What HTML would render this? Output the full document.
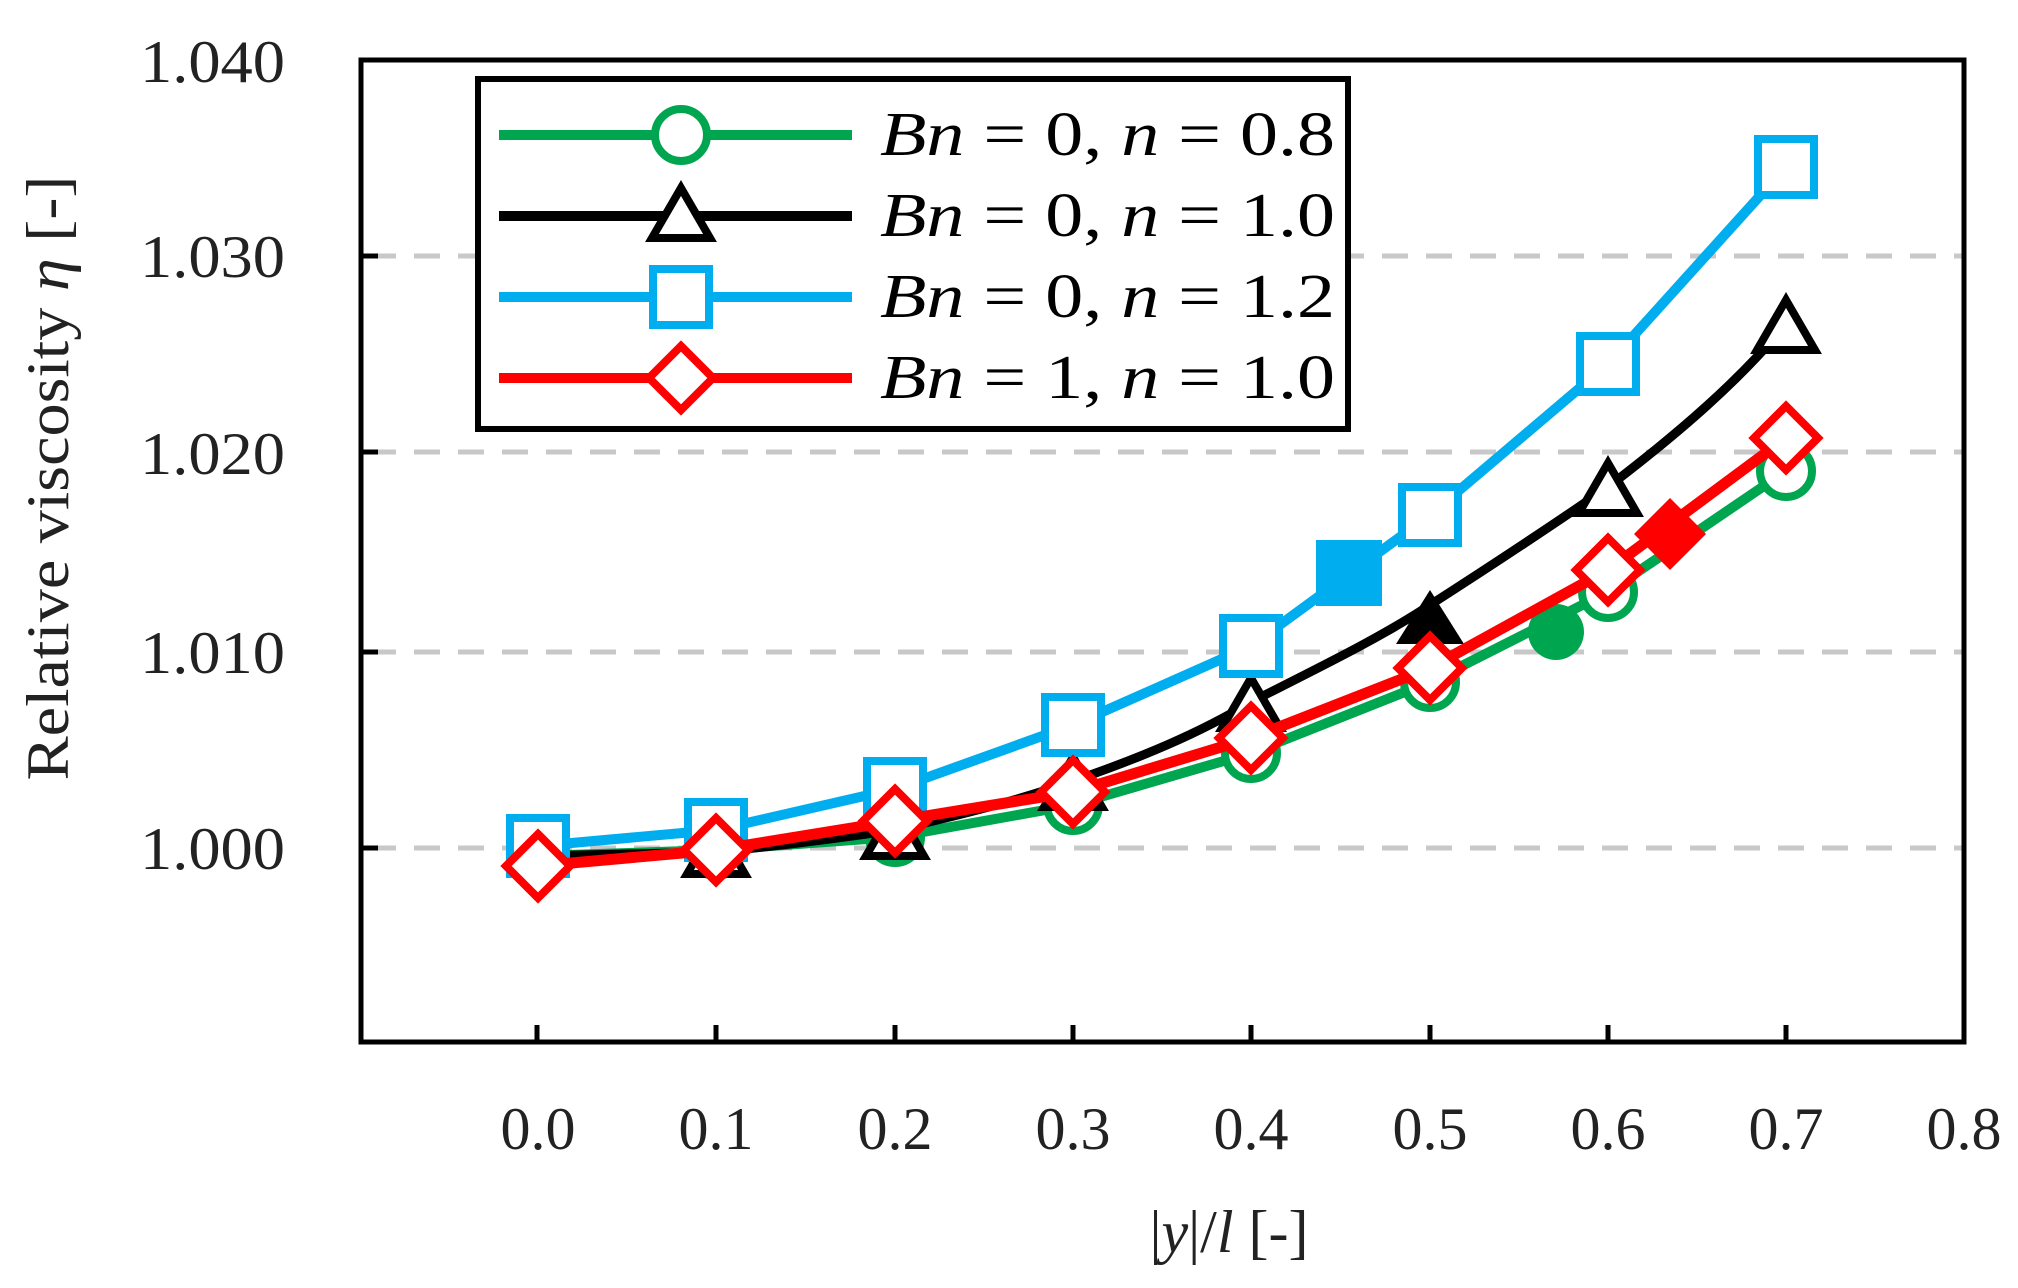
<!DOCTYPE html>
<html><head><meta charset="utf-8"><style>html,body{margin:0;padding:0;background:#fff}svg{display:block}</style></head>
<body>
<svg width="2018" height="1288" viewBox="0 0 2018 1288" xmlns="http://www.w3.org/2000/svg">
<rect width="2018" height="1288" fill="#fff"/>
<g stroke="#c8c8c8" stroke-width="5" stroke-dasharray="26,18">
<line x1="370" y1="848" x2="1962" y2="848"/>
<line x1="370" y1="652" x2="1962" y2="652"/>
<line x1="370" y1="452" x2="1962" y2="452"/>
<line x1="370" y1="256" x2="1962" y2="256"/>
</g>
<g stroke="#000" stroke-width="5">
<line x1="537" y1="1043" x2="537" y2="1025"/>
<line x1="716" y1="1043" x2="716" y2="1025"/>
<line x1="895" y1="1043" x2="895" y2="1025"/>
<line x1="1073" y1="1043" x2="1073" y2="1025"/>
<line x1="1251" y1="1043" x2="1251" y2="1025"/>
<line x1="1430" y1="1043" x2="1430" y2="1025"/>
<line x1="1608" y1="1043" x2="1608" y2="1025"/>
<line x1="1786" y1="1043" x2="1786" y2="1025"/>
<line x1="360" y1="848" x2="378" y2="848"/>
<line x1="360" y1="652" x2="378" y2="652"/>
<line x1="360" y1="452" x2="378" y2="452"/>
<line x1="360" y1="256" x2="378" y2="256"/>
</g>
<!-- green -->
<polyline fill="none" stroke="#00a550" stroke-width="10" points="538,856 716,850 895,837 1073,805 1251,753 1430,682 1608,592 1786,471"/>
<g fill="#fff" stroke="#00a550" stroke-width="8">
<circle cx="538" cy="856" r="26"/><circle cx="716" cy="850" r="26"/><circle cx="895" cy="837" r="26"/><circle cx="1073" cy="805" r="26"/><circle cx="1251" cy="753" r="26"/><circle cx="1430" cy="682" r="26"/><circle cx="1608" cy="592" r="26"/><circle cx="1786" cy="471" r="26"/>
</g>
<circle cx="1556" cy="632" r="28" fill="#00a550"/>
<!-- black -->
<path fill="none" stroke="#000" stroke-width="9" d="M538,856 L716,852 C780,846 840,838 895,830 C960,815 1020,800 1073,781 C1140,758 1200,733 1251,702 C1320,667 1380,638 1430,605 C1500,560 1560,520 1608,487 C1680,432 1740,380 1786,324"/>
<g fill="#fff" stroke="#000" stroke-width="8" stroke-linejoin="miter">
<polygon points="716,824 745,874 687,874"/><polygon points="895,806 924,856 866,856"/><polygon points="1073,757 1102,807 1044,807"/><polygon points="1251,678 1280,728 1222,728"/><polygon points="1608,463 1637,513 1579,513"/><polygon points="1786,300 1815,350 1757,350"/>
</g>
<polygon points="1430,590 1464,644 1396,644" fill="#000"/>
<!-- blue -->
<polyline fill="none" stroke="#00aeef" stroke-width="10" points="538,846 716,830 895,789 1073,725 1251,646 1430,515 1608,364 1786,167"/>
<g fill="#fff" stroke="#00aeef" stroke-width="8">
<rect x="510" y="818" width="56" height="56"/><rect x="688" y="802" width="56" height="56"/><rect x="867" y="761" width="56" height="56"/><rect x="1045" y="697" width="56" height="56"/><rect x="1223" y="618" width="56" height="56"/><rect x="1402" y="487" width="56" height="56"/><rect x="1580" y="336" width="56" height="56"/><rect x="1758" y="139" width="56" height="56"/>
</g>
<rect x="1316" y="540" width="66" height="66" fill="#00aeef"/>
<!-- red -->
<polyline fill="none" stroke="#ff0000" stroke-width="11" points="538,866 716,850 895,821 1073,792 1251,738 1430,668 1608,570 1786,438"/>
<g fill="#fff" stroke="#ff0000" stroke-width="8">
<polygon points="538,834 570,866 538,898 506,866"/><polygon points="716,818 748,850 716,882 684,850"/><polygon points="895,789 927,821 895,853 863,821"/><polygon points="1073,760 1105,792 1073,824 1041,792"/><polygon points="1251,706 1283,738 1251,770 1219,738"/><polygon points="1430,636 1462,668 1430,700 1398,668"/><polygon points="1608,538 1640,570 1608,602 1576,570"/><polygon points="1786,406 1818,438 1786,470 1754,438"/>
</g>
<polygon points="1670,498 1706,534 1670,570 1634,534" fill="#ff0000"/>
<!-- frame -->
<rect x="361" y="60" width="1603" height="982" fill="none" stroke="#000" stroke-width="5"/>
<!-- legend -->
<rect x="478" y="79" width="870" height="350" fill="#fff" stroke="#000" stroke-width="6"/>
<line x1="499" y1="135" x2="852" y2="135" stroke="#00a550" stroke-width="10"/>
<circle cx="681" cy="135" r="26" fill="#fff" stroke="#00a550" stroke-width="8"/>
<line x1="499" y1="216" x2="852" y2="216" stroke="#000" stroke-width="10"/>
<polygon points="681,188 710,238 652,238" fill="#fff" stroke="#000" stroke-width="8"/>
<line x1="499" y1="297" x2="852" y2="297" stroke="#00aeef" stroke-width="10"/>
<rect x="653" y="269" width="56" height="56" fill="#fff" stroke="#00aeef" stroke-width="8"/>
<line x1="499" y1="378" x2="852" y2="378" stroke="#ff0000" stroke-width="10"/>
<polygon points="681,346 713,378 681,410 649,378" fill="#fff" stroke="#ff0000" stroke-width="8"/>
<g font-family="Liberation Serif, serif" font-size="62" fill="#000">
<text x="880" y="155" textLength="455" lengthAdjust="spacingAndGlyphs"><tspan font-style="italic">Bn</tspan> = 0, <tspan font-style="italic">n</tspan> = 0.8</text>
<text x="880" y="236" textLength="455" lengthAdjust="spacingAndGlyphs"><tspan font-style="italic">Bn</tspan> = 0, <tspan font-style="italic">n</tspan> = 1.0</text>
<text x="880" y="317" textLength="455" lengthAdjust="spacingAndGlyphs"><tspan font-style="italic">Bn</tspan> = 0, <tspan font-style="italic">n</tspan> = 1.2</text>
<text x="880" y="398" textLength="455" lengthAdjust="spacingAndGlyphs"><tspan font-style="italic">Bn</tspan> = 1, <tspan font-style="italic">n</tspan> = 1.0</text>
</g>
<!-- axis labels -->
<g font-family="Liberation Serif, serif" font-size="60" fill="#222">
<text x="285" y="82" text-anchor="end" textLength="145" lengthAdjust="spacingAndGlyphs">1.040</text>
<text x="285" y="277" text-anchor="end" textLength="145" lengthAdjust="spacingAndGlyphs">1.030</text>
<text x="285" y="474" text-anchor="end" textLength="145" lengthAdjust="spacingAndGlyphs">1.020</text>
<text x="285" y="673" text-anchor="end" textLength="145" lengthAdjust="spacingAndGlyphs">1.010</text>
<text x="285" y="869" text-anchor="end" textLength="145" lengthAdjust="spacingAndGlyphs">1.000</text>
</g>
<g font-family="Liberation Serif, serif" font-size="60" fill="#222" text-anchor="middle">
<text x="538" y="1149">0.0</text><text x="716" y="1149">0.1</text><text x="895" y="1149">0.2</text><text x="1073" y="1149">0.3</text><text x="1251" y="1149">0.4</text><text x="1430" y="1149">0.5</text><text x="1608" y="1149">0.6</text><text x="1786" y="1149">0.7</text><text x="1964" y="1149">0.8</text>
<text x="1229" y="1252">|<tspan font-style="italic">y</tspan>|/<tspan font-style="italic">l</tspan> [-]</text>
<text transform="translate(68,478) rotate(-90)" textLength="605" lengthAdjust="spacingAndGlyphs">Relative viscosity <tspan font-style="italic">η</tspan> [-]</text>
</g>
</svg>
</body></html>
